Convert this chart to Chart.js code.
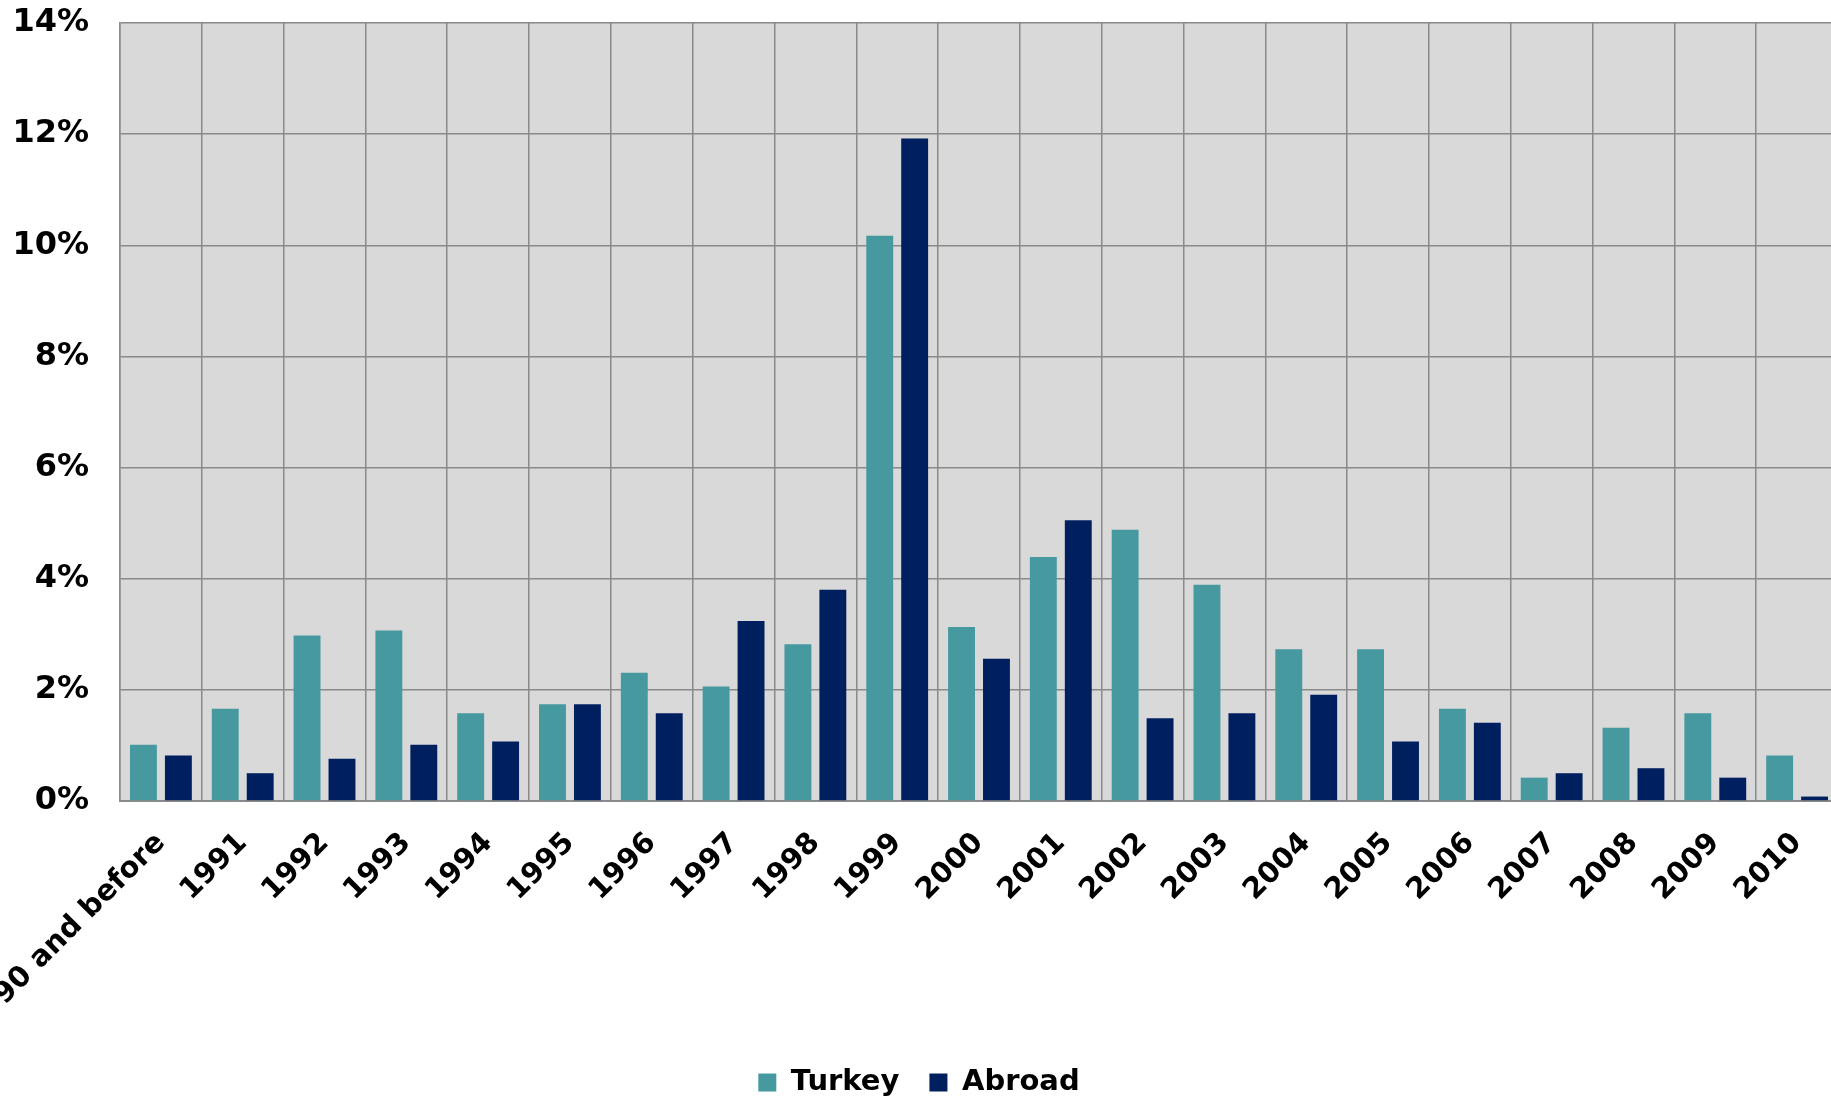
<!DOCTYPE html>
<html>
<head>
<meta charset="utf-8">
<script src="https://cdn.jsdelivr.net/npm/chart.js@4"></script>
<style>
  html, body { margin: 0; padding: 0; background: #fff; overflow: hidden; }
  #wrap { position: absolute; left: 0; top: 0; width: 1838px; height: 1107px; }
</style>
</head>
<body>
<div id="wrap"><canvas id="chart" width="1838" height="1107"></canvas></div>
<script>
// Share by year (percent)
const years = ['1990 and before', '1991', '1992', '1993', '1994', '1995', '1996', '1997', '1998', '1999',
    '2000', '2001', '2002', '2003', '2004', '2005', '2006', '2007', '2008', '2009', '2010'];
const turkey = [1.01, 1.66, 2.98, 3.07, 1.58, 1.74, 2.31, 2.06, 2.82, 10.17,
    3.13, 4.39, 4.88, 3.89, 2.73, 2.73, 1.66, 0.42, 1.32, 1.58, 0.82];
const abroad = [0.82, 0.50, 0.76, 1.01, 1.07, 1.74, 1.58, 3.24, 3.80, 11.92,
    2.56, 5.05, 1.49, 1.58, 1.91, 1.07, 1.41, 0.50, 0.59, 0.42, 0.08];
const yTicks = [0, 2, 4, 6, 8, 10, 12, 14];

const gridColor = '#8a8a8a';
Chart.defaults.font.family = "'DejaVu Sans', Verdana, sans-serif";
Chart.defaults.font.weight = 'bold';
Chart.defaults.color = '#000';

// fill the plot area grey before the grid is drawn
const plotBackground = {
    id: 'plotBackground',
    beforeDraw(chart) {
        const { ctx, chartArea } = chart;
        ctx.save();
        ctx.fillStyle = '#d9d9d9';
        ctx.fillRect(chartArea.left, chartArea.top, chartArea.right - chartArea.left, chartArea.bottom - chartArea.top);
        ctx.restore();
    }
};

const ctx = document.getElementById('chart').getContext('2d');
const chart = new Chart(ctx, {
    type: 'bar',
    data: {
        labels: years,
        datasets: [{
            label: 'Turkey',
            data: turkey,
            backgroundColor: '#4799a0',
            borderWidth: 0,
            categoryPercentage: 0.854,
            barPercentage: 0.77
        },
        {
            label: 'Abroad',
            data: abroad,
            backgroundColor: '#001f5f',
            borderWidth: 0,
            categoryPercentage: 0.854,
            barPercentage: 0.77
        }]
    },
    options: {
        responsive: false,
        devicePixelRatio: 1,
        animation: false,
        layout: { padding: { top: 23, left: 0, right: 0, bottom: 0 } },
        plugins: {
            tooltip: { enabled: false },
            legend: {
                position: 'bottom',
                labels: {
                    boxWidth: 18,
                    boxHeight: 18,
                    padding: 30,
                    font: { size: 29, weight: 'bold' }
                }
            }
        },
        scales: {
            x: {
                grid: { color: gridColor, lineWidth: 1.5, drawTicks: false },
                border: { color: gridColor, width: 2 },
                ticks: {
                    autoSkip: false,
                    minRotation: 45,
                    maxRotation: 45,
                    padding: 25,
                    font: { size: 29, weight: 'bold' }
                },
                afterFit(scale) {
                    scale.paddingLeft = 0;
                    scale.paddingRight = 0;
                    scale.height = 237;
                }
            },
            y: {
                min: 0,
                max: 14,
                grid: { color: gridColor, lineWidth: 1.5, drawTicks: false },
                border: { color: gridColor, width: 1.5 },
                afterBuildTicks(scale) {
                    scale.ticks = yTicks.map(v => ({ value: v }));
                },
                ticks: {
                    padding: 31,
                    font: { size: 32, weight: 'bold' },
                    callback: v => v + '%'
                },
                afterFit(scale) {
                    scale.width = 120;
                    scale.paddingTop = 0;
                    scale.paddingBottom = 0;
                }
            }
        }
    },
    plugins: [plotBackground]
});
</script>
</body>
</html>
